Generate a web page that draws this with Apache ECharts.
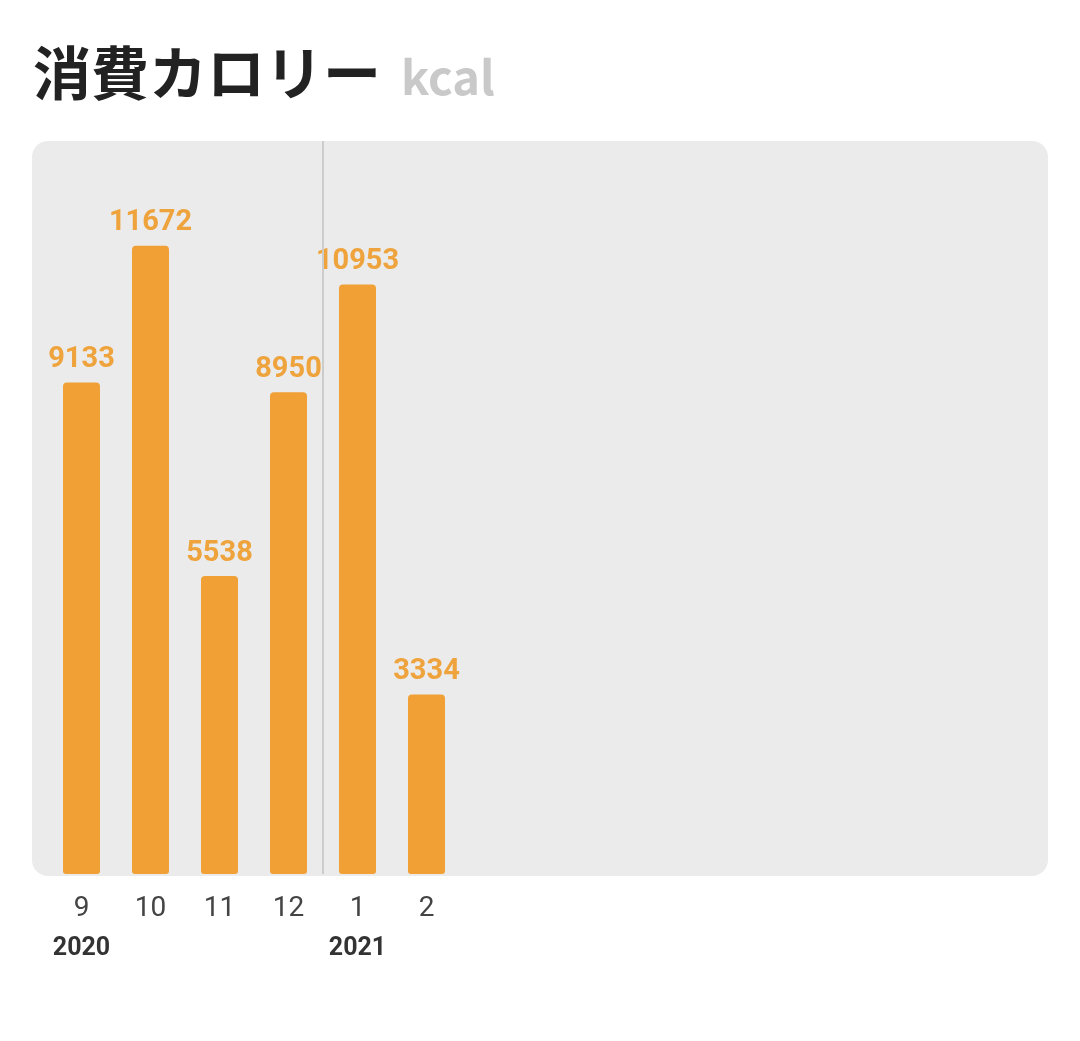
<!DOCTYPE html>
<html><head><meta charset="utf-8">
<script src="https://cdn.jsdelivr.net/npm/echarts@6/dist/echarts.min.js"></script>
<style>html,body{margin:0;padding:0;background:#fff;}#c{width:1080px;height:1041px;}</style>
</head><body><div id="c"></div>
<script>
const months = ['9', '10', '11', '12', '1', '2'];
const years = ['2020', '', '', '', '2021', ''];
const calories = [9133, 11672, 5538, 8950, 10953, 3334];
const slotCount = 14;
const yearBreakIndex = 4;

const cats = months.concat(new Array(slotCount - months.length).fill(''));
const chart = echarts.init(document.getElementById('c'));
chart.setOption({
  animation: false,
  backgroundColor: '#ffffff',
  graphic: [
    { type: 'rect', left: 32, top: 141, z: -10, shape: { width: 1016, height: 735, r: 16 }, style: { fill: '#ebebeb' } },
    { type: 'text', x: 33, y: 73, style: { text: '消費カロリー', font: 'bold 58px "Noto Sans CJK JP"', fill: '#222222', verticalAlign: 'middle' } },
    { type: 'text', x: 401, y: 77, style: { text: 'kcal', font: 'bold 47px "Noto Sans CJK JP"', fill: '#c9c9c9', verticalAlign: 'middle' } }
  ],
  grid: { left: 47, top: 141, width: 69 * slotCount, height: 733 },
  xAxis: [{
    type: 'category',
    data: cats,
    axisLine: { show: false },
    axisTick: { show: false },
    splitLine: { show: false },
    axisLabel: {
      margin: 15,
      interval: 0,
      formatter: (v, i) => i < months.length ? '{m|' + v + '}\n{y|' + (years[i] || ' ') + '}' : '',
      rich: {
        m: { fontFamily: 'Roboto', fontSize: 28, color: '#444444', lineHeight: 40 },
        y: { fontFamily: 'Roboto', fontSize: 25, fontWeight: 'bold', color: '#333333', lineHeight: 40 }
      }
    }
  }, {
    type: 'value', min: 0, max: slotCount, show: false, splitLine: { show: false }
  }],
  yAxis: {
    type: 'value', min: 0, max: Math.max(...calories) * 7 / 6,
    show: false, splitLine: { show: false }
  },
  series: [{
    type: 'bar',
    data: calories,
    barWidth: 37,
    itemStyle: { color: '#f0a035', borderRadius: [4, 4, 3, 3] },
    label: {
      show: true, position: 'top', distance: 8,
      fontFamily: 'Roboto', fontWeight: 'bold', fontSize: 29, color: '#eea33c'
    }
  }, {
    type: 'line', xAxisIndex: 1, data: [], silent: true,
    markLine: {
      symbol: 'none', silent: true, label: { show: false },
      lineStyle: { color: '#cccccc', width: 2, type: 'solid' },
      data: [{ xAxis: yearBreakIndex }]
    }
  }]
});
</script></body></html>
